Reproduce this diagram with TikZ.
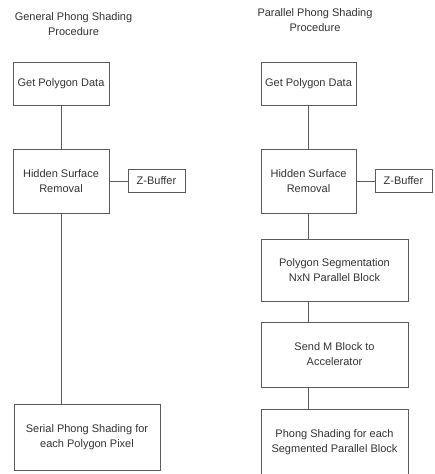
\documentclass[tikz,border=0pt]{standalone}
\usepackage{fontspec}
\setmainfont{Liberation Sans}
\usepackage{xcolor}
\usepackage{tikz}
\usetikzlibrary{calc}
\usetikzlibrary{positioning}

\definecolor{linegray}{HTML}{5A5A5A}
\definecolor{textgray}{HTML}{333333}

\begin{document}
\begin{tikzpicture}[x=1pt,y=-1pt,
	box/.style={draw=linegray,line width=0.9pt,align=center,inner sep=0pt,text=textgray,font=\fontsize{11}{15}\selectfont},
	link/.style={draw=linegray,line width=0.9pt},
	title/.style={align=center,text=textgray,font=\fontsize{11}{15}\selectfont}]
	\useasboundingbox (0,0) rectangle (434,474);
	% left column: general procedure
	\node[title] (titleL) at (73.5,24) {General Phong Shading\\Procedure};
	\node[box,minimum width=96,minimum height=43] (gpdL) at (61,83.5) {Get Polygon Data};
	\node[box,minimum width=96,minimum height=64] (hsrL) at (61,181) {Hidden Surface\\Removal};
	\node[box,minimum width=57,minimum height=23] (zbL) at (156.5,181) {Z-Buffer};
	\node[box,minimum width=146,minimum height=66] (sppL) at (87,437) {Serial Phong Shading for\\each Polygon Pixel};
	\draw[link] (gpdL.south) -- (hsrL.north);
	\draw[link] (hsrL.east) -- (zbL.west);
	\draw[link] (hsrL.south) -- (hsrL.south |- sppL.north);
	% right column: parallel procedure
	\node[title] (titleR) at (315,20) {Parallel Phong Shading\\Procedure};
	\node[box,minimum width=95,minimum height=43] (gpdR) at (308.5,83.5) {Get Polygon Data};
	\node[box,minimum width=95,minimum height=64] (hsrR) at (308.5,181) {Hidden Surface\\Removal};
	\node[box,minimum width=57,minimum height=23] (zbR) at (403.5,181) {Z-Buffer};
	\node[box,minimum width=147,minimum height=62] (psR) at (334.5,270) {Polygon Segmentation\\NxN Parallel Block};
	\node[box,minimum width=147,minimum height=65] (smR) at (334.5,354.5) {Send M Block to\\Accelerator};
	\node[box,minimum width=147,minimum height=67] (phR) at (334.5,442.5) {Phong Shading for each\\Segmented Parallel Block};
	\draw[link] (gpdR.south) -- (hsrR.north);
	\draw[link] (hsrR.east) -- (zbR.west);
	\draw[link] (hsrR.south) -- (hsrR.south |- psR.north);
	\draw[link] (hsrR.south |- psR.south) -- (hsrR.south |- smR.north);
	\draw[link] (hsrR.south |- smR.south) -- (hsrR.south |- phR.north);
\end{tikzpicture}
\end{document}
